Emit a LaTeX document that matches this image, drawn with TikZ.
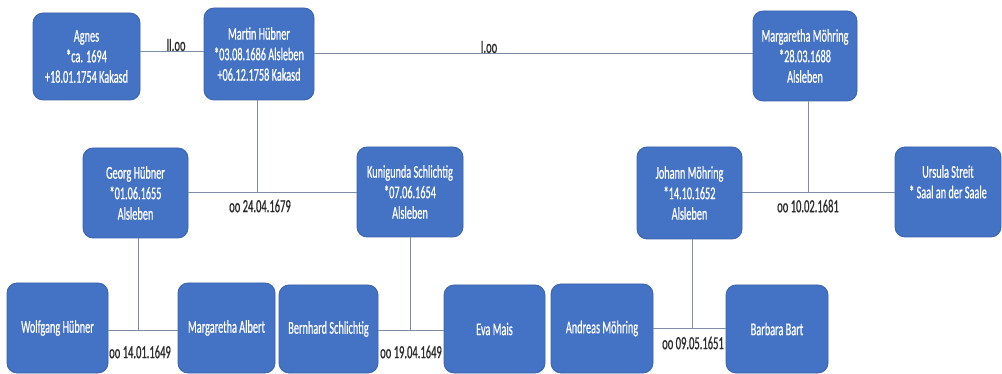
\documentclass[tikz,border=0pt]{standalone}
\usepackage{fontspec}
\setmainfont{Carlito}
\newfontfamily\boxfont[FakeStretch=0.57,FakeBold=0.6]{Carlito}
\begin{document}
\begin{tikzpicture}[x=1pt,y=-1pt,
  person/.style={draw=boxborder,fill=boxblue,line width=0.8pt,rounded corners=10pt,
    text=white,align=center,inner sep=0pt,
    font=\boxfont\fontsize{18}{20.5}\selectfont},
  link/.style={draw=linegray,line width=1pt},
  lbl/.style={text=labelgray,inner sep=0pt,font=\boxfont\fontsize{18.5}{20}\selectfont}]
\definecolor{boxblue}{HTML}{4472C4}
\definecolor{boxborder}{HTML}{3A62AC}
\definecolor{linegray}{HTML}{7D8DA3}
\definecolor{labelgray}{HTML}{2B2B2B}
\useasboundingbox[fill=white] (0,0) rectangle (1002,374);

% top row
\node[person,minimum width=107pt,minimum height=87pt] (agnes) at (86.5,56.5)
  {Agnes\\*ca. 1694\\+18.01.1754 Kakasd};
\node[person,minimum width=110pt,minimum height=92pt] (martin) at (259,54)
  {Martin Hübner\\*03.08.1686 Alsleben\\+06.12.1758 Kakasd};
\node[person,minimum width=104pt,minimum height=90pt] (mm) at (805,56)
  {Margaretha Möhring\\*28.03.1688\\Alsleben};

% middle row
\node[person,minimum width=105pt,minimum height=90pt] (georg) at (135.5,193)
  {Georg Hübner\\*01.06.1655\\Alsleben};
\node[person,minimum width=106pt,minimum height=90pt] (kuni) at (410,192)
  {Kunigunda Schlichtig\\*07.06.1654\\Alsleben};
\node[person,minimum width=105pt,minimum height=92pt] (johann) at (689.5,193)
  {Johann Möhring\\*14.10.1652\\Alsleben};
\node[person,minimum width=106pt,minimum height=90pt] (ursula) at (948,192)
  {Ursula Streit\\* Saal an der Saale\\\mbox{}};

% bottom row
\node[person,minimum width=101pt,minimum height=90pt] (wolfgang) at (57.5,328)
  {Wolfgang Hübner};
\node[person,minimum width=97pt,minimum height=90pt] (albert) at (226.5,328)
  {Margaretha Albert};
\node[person,minimum width=99pt,minimum height=88pt] (bernhard) at (328.5,329)
  {Bernhard Schlichtig};
\node[person,minimum width=101pt,minimum height=88pt] (eva) at (494.5,329)
  {Eva Mais};
\node[person,minimum width=102pt,minimum height=89pt] (andreas) at (602,328.5)
  {Andreas Möhring};
\node[person,minimum width=102pt,minimum height=88pt] (barbara) at (777,329)
  {Barbara Bart};

% marriage points
\coordinate (mA) at (177,52);
\coordinate (mB) at (489,54);
\coordinate (m1) at (257,193);
\coordinate (m2) at (808,193);
\coordinate (m3) at (138,330);
\coordinate (m4) at (410,330);
\coordinate (m5) at (692,328);

% connectors
\draw[link] (agnes.east |- mA) -- (martin.west |- mA);
\draw[link] (martin.east |- mB) -- (mm.west |- mB);
\draw[link] (georg.east |- m1) -- (kuni.west |- m1);
\draw[link] (m1 |- martin.south) -- (m1);
\draw[link] (johann.east |- m2) -- (ursula.west |- m2);
\draw[link] (m2 |- mm.south) -- (m2);
\draw[link] (wolfgang.east |- m3) -- (albert.west |- m3);
\draw[link] (m3 |- georg.south) -- (m3);
\draw[link] (bernhard.east |- m4) -- (eva.west |- m4);
\draw[link] (m4 |- kuni.south) -- (m4);
\draw[link] (andreas.east |- m5) -- (barbara.west |- m5);
\draw[link] (m5 |- johann.south) -- (m5);

% labels
\node[lbl] (lA) at (176,45) {II.oo};
\node[lbl] (lB) at (489,47) {I.oo};
\node[lbl] (l1) at (260,206) {oo 24.04.1679};
\node[lbl] (l2) at (808,206) {oo 10.02.1681};
\node[lbl] (l3) at (140,352) {oo 14.01.1649};
\node[lbl] (l4) at (411,352) {oo 19.04.1649};
\node[lbl] (l5) at (693,343) {oo 09.05.1651};
\end{tikzpicture}
\end{document}
